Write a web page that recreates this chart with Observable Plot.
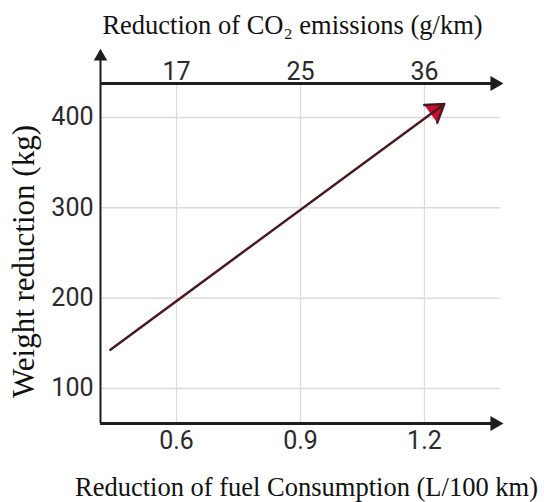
<!DOCTYPE html>
<html>
<head>
<meta charset="utf-8">
<script src="https://cdn.jsdelivr.net/npm/d3@7"></script>
<script src="https://cdn.jsdelivr.net/npm/@observablehq/plot@0.6"></script>
<style>
  html, body { margin: 0; padding: 0; background: #fff; }
</style>
</head>
<body>
<div id="chart"></div>
<script>
// ---- data ----
const fuelTicks = [0.6, 0.9, 1.2];          // bottom axis (L/100 km)
const co2Labels = [17, 25, 36];             // top axis (g/km), same positions
const weightTicks = [100, 200, 300, 400];   // left axis (kg)
const fuelReduction = [0.44, 1.248];        // line start / end
const weightReduction = [143, 415];

const topTitle = "Reduction of CO\u2082 emissions (g/km)";
const bottomTitle = "Reduction of fuel Consumption (L/100 km)";
const leftTitle = "Weight reduction (kg)";

// ---- layout ----
const xDomain = [0.416, 1.384];
const yDomain = [61.25, 437.6];
const yAxisTip = yDomain[1] + 0.083 * (yDomain[1] - yDomain[0]);

const segment = [{x1: fuelReduction[0], y1: weightReduction[0], x2: fuelReduction[1], y2: weightReduction[1]}];

const serif = "'Liberation Serif', 'Times New Roman', serif";
const tickFont = "Roboto, 'Liberation Sans', sans-serif";
const axisColor = "#1e1e1e";
const gridColor = "#dcdcdc";

const chart = Plot.plot({
  width: 544,
  height: 502,
  marginLeft: 100,
  marginRight: 44,
  marginTop: 83,
  marginBottom: 79,
  style: {fontFamily: tickFont, fontSize: "25px", color: "#2a2a2a", background: "#fff"},
  x: {domain: xDomain, axis: null},
  y: {domain: yDomain, axis: null},
  marks: [
    // grid
    Plot.ruleY(weightTicks, {stroke: gridColor, strokeWidth: 1.5}),
    Plot.ruleX(fuelTicks, {stroke: gridColor, strokeWidth: 1.2}),
    // axes lines
    Plot.ruleY([yDomain[1]], {stroke: axisColor, strokeWidth: 3}),
    Plot.ruleY([yDomain[0]], {stroke: axisColor, strokeWidth: 3}),
    Plot.ruleX([xDomain[0]], {y1: yDomain[0], y2: yAxisTip, stroke: axisColor, strokeWidth: 2}),
    // arrowheads of axes
    Plot.dot([0], {frameAnchor: "top-right", dx: -5.7, symbol: "triangle", rotate: 90, r: 5.6, fill: axisColor, stroke: "none"}),
    Plot.dot([0], {frameAnchor: "bottom-right", dx: -5.7, symbol: "triangle", rotate: 90, r: 5.6, fill: axisColor, stroke: "none"}),
    Plot.dot([0], {frameAnchor: "top-left", dy: -27, symbol: "triangle", r: 5, fill: axisColor, stroke: "none"}),
    // tick labels
    Plot.axisY({ticks: weightTicks, tickSize: 0, tickPadding: 7, tickFormat: d => String(d), fill: "#2a2a2a"}),
    Plot.axisX({anchor: "bottom", ticks: fuelTicks, tickSize: 0, tickPadding: 8, tickFormat: d => d.toFixed(1), fill: "#2a2a2a"}),
    Plot.axisX({anchor: "top", ticks: fuelTicks, tickSize: 0, tickPadding: 3.5, tickFormat: (d, i) => String(co2Labels[i]), fill: "#2a2a2a"}),
    // data line with arrowhead
    Plot.arrow(segment, {x1: "x1", y1: "y1", x2: "x2", y2: "y2", stroke: "#4a1a1e", fill: "#c8102e", strokeWidth: 2.5, headLength: 12, headAngle: 66}),
    // titles
    Plot.text([topTitle], {text: d => d, frameAnchor: "top", dx: -8, dy: -58, lineAnchor: "middle", fontFamily: serif, fontSize: 26.5, fill: "#111"}),
    Plot.text([bottomTitle], {text: d => d, frameAnchor: "bottom", dx: 6, dy: 64, lineAnchor: "middle", fontFamily: serif, fontSize: 26.5, fill: "#111"}),
    Plot.text([leftTitle], {text: d => d, frameAnchor: "left", textAnchor: "middle", dx: -76, dy: 8, rotate: -90, lineAnchor: "middle", fontFamily: serif, fontSize: 31, fill: "#111"})
  ]
});
document.getElementById("chart").appendChild(chart);
</script>
</body>
</html>
